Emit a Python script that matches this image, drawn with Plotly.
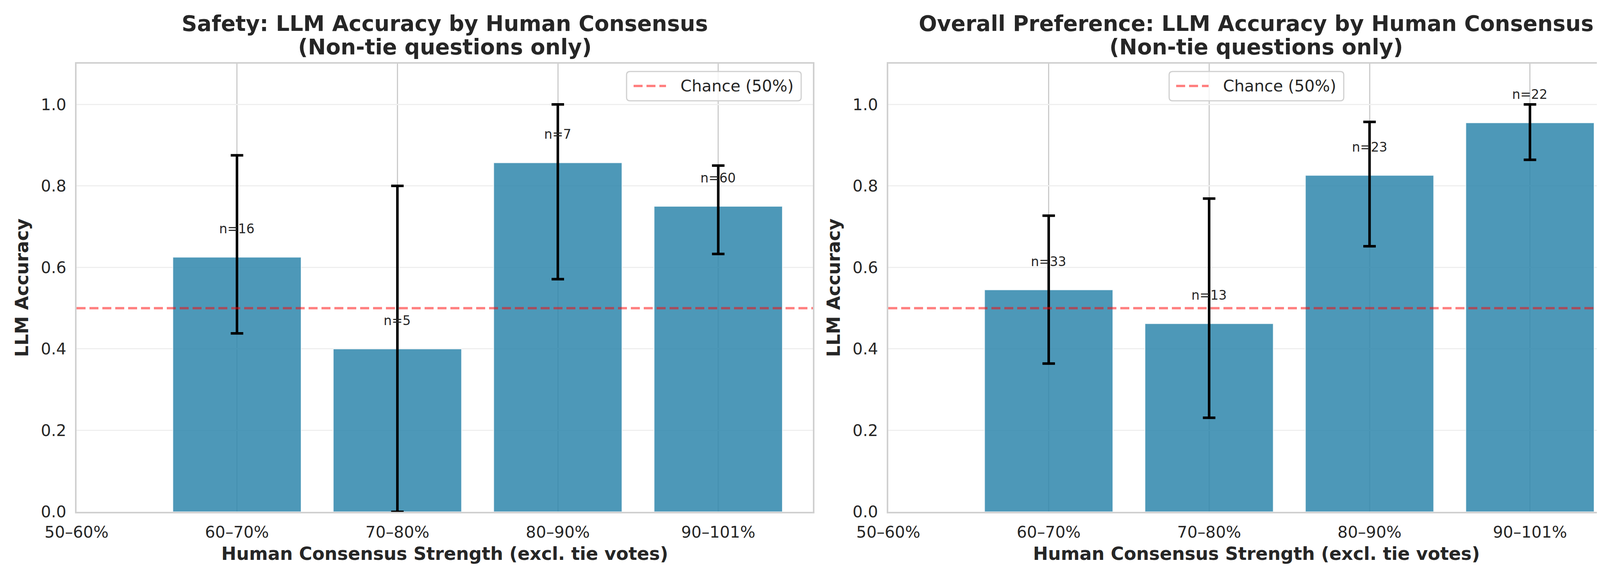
import plotly.graph_objects as go

# ---------------- data ----------------
categories = ["50–60%", "60–70%", "70–80%", "80–90%", "90–101%"]

safety_acc = [None, 0.625, 0.400, 0.857, 0.750]
safety_lo = [None, 0.438, 0.000, 0.571, 0.633]
safety_hi = [None, 0.875, 0.800, 1.000, 0.850]
safety_n = [None, 16, 5, 7, 60]

pref_acc = [None, 0.545, 0.462, 0.826, 0.955]
pref_lo = [None, 0.364, 0.231, 0.652, 0.864]
pref_hi = [None, 0.727, 0.769, 0.957, 1.000]
pref_n = [None, 33, 13, 23, 22]

titles = [
    ("Safety: LLM Accuracy by Human Consensus", "(Non-tie questions only)"),
    ("Overall Preference: LLM Accuracy by Human Consensus", "(Non-tie questions only)"),
]
x_title = "Human Consensus Strength (excl. tie votes)"
y_title = "LLM Accuracy"
chance_label = "Chance (50%)"
chance_level = 0.5

# ---------------- style ----------------
W, H = 4169, 1464
FONT = "DejaVu Sans"
TXT = "#262626"
BAR = "rgba(46,134,171,0.85)"
GRID_V = "#cccccc"
GRID_H = "#efefef"
SPINE = "#d0d0d0"
CHANCE = "rgba(255,0,0,0.5)"

x_domains = [[188 / W, 2073 / W], [2266 / W, 4151 / W]]
y_domain = [(H - 1302) / H, (H - 155) / H]
legend_left_px = [1596, 2985]  # left edge of each legend box (pixels)

fig = go.Figure()

panels = [
    (safety_acc, safety_lo, safety_hi, safety_n),
    (pref_acc, pref_lo, pref_hi, pref_n),
]


def px_x(p):
    return p / W


def px_y(p):
    return (H - p) / H


def rounded_rect(x0, y0, x1, y1, r):
    # pixel coords (y downwards) -> paper-coord SVG path with rounded corners
    rx, ry = r / W, r / H
    X0, X1 = px_x(x0), px_x(x1)
    Y0, Y1 = px_y(y0), px_y(y1)  # Y0 top (larger), Y1 bottom
    return (f"M{X0 + rx},{Y0} L{X1 - rx},{Y0} Q{X1},{Y0} {X1},{Y0 - ry} "
            f"L{X1},{Y1 + ry} Q{X1},{Y1} {X1 - rx},{Y1} "
            f"L{X0 + rx},{Y1} Q{X0},{Y1} {X0},{Y1 + ry} "
            f"L{X0},{Y0 - ry} Q{X0},{Y0} {X0 + rx},{Y0} Z")


for i, (acc, lo, hi, ns) in enumerate(panels):
    xa = "x" if i == 0 else "x2"
    ya = "y" if i == 0 else "y2"
    plus = [None if a is None else h - a for a, h in zip(acc, hi)]
    minus = [None if a is None else a - l for a, l in zip(acc, lo)]
    fig.add_trace(go.Bar(
        x=categories, y=acc, width=0.8,
        marker=dict(color=BAR, line=dict(color="rgba(255,255,255,0.8)", width=2)),
        error_y=dict(type="data", symmetric=False, array=plus, arrayminus=minus,
                     color="black", thickness=6.5, width=16),
        showlegend=False, xaxis=xa, yaxis=ya, hoverinfo="skip",
    ))
    # n labels
    for c, a, n in zip(categories, acc, ns):
        if a is None:
            continue
        fig.add_annotation(
            x=c, y=a + 0.05, xref=xa, yref=ya, text=f"n={n}", showarrow=False,
            yanchor="bottom", xanchor="center", borderpad=0,
            font=dict(family=FONT, size=33, color=TXT),
        )
    # chance line
    fig.add_shape(
        type="line", xref=f"{xa} domain", yref=ya, x0=0, x1=1,
        y0=chance_level, y1=chance_level, layer="above",
        line=dict(color=CHANCE, width=6, dash="23px,10px"),
    )
    # legend (box, sample line, label)
    lx = legend_left_px[i]
    fig.add_shape(type="path", xref="paper", yref="paper",
                  path=rounded_rect(lx, 175, lx + 447, 250, 9),
                  fillcolor="rgba(255,255,255,0.8)",
                  line=dict(color=SPINE, width=3), layer="above")
    fig.add_shape(type="line", xref="paper", yref="paper",
                  x0=px_x(lx + 18), x1=px_x(lx + 101), y0=px_y(212), y1=px_y(212),
                  line=dict(color=CHANCE, width=6, dash="23px,10px"), layer="above")
    fig.add_annotation(x=px_x(lx + 136), y=px_y(212), xref="paper", yref="paper",
                       text=chance_label, showarrow=False, xanchor="left",
                       yanchor="middle", font=dict(family=FONT, size=41, color=TXT))
    # titles
    cx = sum(x_domains[i]) / 2
    fig.add_annotation(x=cx, y=(H - 52) / H, xref="paper", yref="paper",
                       text=f"<b>{titles[i][0]}</b>", showarrow=False,
                       xanchor="center", yanchor="middle",
                       font=dict(family=FONT, size=55, color=TXT))
    fig.add_annotation(x=cx, y=(H - 112) / H, xref="paper", yref="paper",
                       text=f"<b>{titles[i][1]}</b>", showarrow=False,
                       xanchor="center", yanchor="middle",
                       font=dict(family=FONT, size=55, color=TXT))

axis_common_x = dict(
    type="category", categoryorder="array", categoryarray=categories,
    range=[0, 4.59], showgrid=True, gridcolor=GRID_V, gridwidth=3,
    showline=True, linecolor=SPINE, linewidth=4, mirror=True,
    ticks="", ticklabelstandoff=13, automargin=False,
    tickfont=dict(family=FONT, size=41, color=TXT),
    title=dict(text=f"<b>{x_title}</b>", font=dict(family=FONT, size=46, color=TXT), standoff=17),
    zeroline=False,
)
axis_common_y = dict(
    range=[0, 1.1], tickvals=[0, 0.2, 0.4, 0.6, 0.8, 1.0],
    ticktext=["0.0", "0.2", "0.4", "0.6", "0.8", "1.0"],
    showgrid=True, gridcolor=GRID_H, gridwidth=3,
    showline=True, linecolor=SPINE, linewidth=4, mirror=True,
    ticks="", ticklabelstandoff=14, zeroline=False, automargin=False,
    tickfont=dict(family=FONT, size=41, color=TXT),
    title=dict(text=f"<b>{y_title}</b>", font=dict(family=FONT, size=46, color=TXT), standoff=18),
    domain=y_domain,
)

fig.update_layout(
    width=W, height=H, margin=dict(l=0, r=0, t=0, b=0, autoexpand=False),
    paper_bgcolor="white", plot_bgcolor="white",
    bargap=0.2, showlegend=False,
    xaxis=dict(domain=x_domains[0], anchor="y", **axis_common_x),
    xaxis2=dict(domain=x_domains[1], anchor="y2", **axis_common_x),
    yaxis=dict(anchor="x", **axis_common_y),
    yaxis2=dict(anchor="x2", **axis_common_y),
)

fig.write_html("out.html")
